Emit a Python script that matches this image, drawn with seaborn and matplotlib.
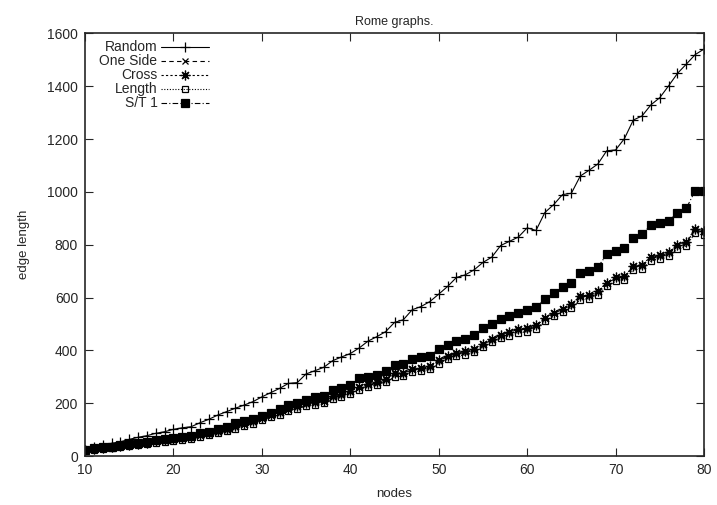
import numpy as np
import pandas as pd
import matplotlib
matplotlib.use("Agg")
import matplotlib.pyplot as plt
import seaborn as sns

nodes = list(range(10, 81))

random_len = [23, 35, 42, 48, 54, 63, 71, 77, 86, 92, 101, 107, 111, 126, 139, 155, 168, 181, 193, 206,
              224, 240, 256, 275, 278, 311, 323, 336, 361, 375, 388, 409, 435, 452, 471, 506, 516, 554, 566, 585,
              613, 642, 676, 686, 705, 733, 753, 797, 813, 829, 864, 854, 922, 952, 990, 995, 1060, 1082, 1106, 1156,
              1159, 1202, 1272, 1288, 1330, 1357, 1402, 1449, 1484, 1520, 1541]

one_side_len = [20, 26, 30, 33, 38, 42, 46, 50, 55, 58, 62, 67, 71, 78, 84, 92, 100, 110, 120, 130,
                143, 155, 164, 177, 187, 197, 202, 207, 225, 231, 244, 260, 269, 278, 288, 311, 311, 328, 332, 338,
                360, 376, 388, 393, 402, 422, 440, 456, 466, 477, 481, 492, 521, 540, 555, 572, 603, 606, 622, 654,
                673, 677, 717, 721, 752, 759, 768, 795, 808, 856, 847]

cross_len = [21, 27, 31, 34, 39, 43, 47, 51, 56, 60, 64, 68, 73, 80, 86, 94, 102, 112, 122, 132,
             145, 157, 166, 179, 189, 199, 205, 210, 228, 234, 247, 263, 272, 281, 291, 314, 314, 331, 335, 341,
             363, 379, 391, 396, 405, 425, 443, 459, 469, 480, 485, 495, 524, 543, 558, 575, 606, 609, 625, 657,
             676, 680, 720, 725, 755, 762, 772, 799, 812, 860, 851]

length_len = [19, 24, 28, 31, 35, 39, 43, 46, 51, 54, 58, 62, 66, 72, 78, 86, 94, 103, 113, 123,
              135, 147, 156, 169, 179, 189, 194, 199, 216, 222, 235, 251, 260, 269, 279, 301, 302, 318, 322, 328,
              350, 366, 378, 383, 392, 412, 430, 446, 456, 466, 471, 482, 510, 529, 545, 561, 592, 595, 611, 643,
              661, 666, 705, 709, 740, 747, 756, 783, 796, 844, 836]

st1_len = [23, 29, 33, 35, 42, 45, 50, 54, 61, 63, 67, 73, 77, 86, 92, 101, 111, 124, 134, 141,
           153, 164, 177, 193, 199, 212, 225, 227, 250, 256, 269, 294, 298, 307, 323, 345, 347, 366, 376, 379,
           405, 420, 437, 444, 460, 485, 500, 518, 530, 542, 553, 564, 593, 616, 640, 654, 692, 702, 715, 764,
           776, 786, 824, 840, 875, 884, 890, 921, 938, 1005, 1005]

series_names = ["Random", "One Side", "Cross", "Length", "S/T 1"]
series_values = [random_len, one_side_len, cross_len, length_len, st1_len]

x_ticks = [10, 20, 30, 40, 50, 60, 70, 80]
y_ticks = [0, 200, 400, 600, 800, 1000, 1200, 1400, 1600]

sns.set_style("ticks")
plt.rcParams["font.family"] = ["Liberation Sans", "DejaVu Sans"]

fig = plt.figure(figsize=(7.17, 5.05), dpi=100)
ax = fig.add_axes([0.1186, 0.097, 0.8633, 0.8367])

styles = {
    "Random":   dict(linestyle="-", marker="+", markersize=7, mfc="k"),
    "One Side": dict(linestyle=(0, (4, 3)), marker="x", markersize=5, mfc="k"),
    "Cross":    dict(linestyle=(0, (2, 2)), marker=(8, 2, 0), markersize=7, mfc="k"),
    "Length":   dict(linestyle=(0, (1, 1.5)), marker="s", markersize=5, mfc="none"),
    "S/T 1":    dict(linestyle=(0, (5, 2, 1, 2)), marker="s", markersize=6, mfc="k"),
}

for name, vals in zip(series_names, series_values):
    df = pd.DataFrame({"nodes": nodes, "edge length": vals})
    sns.lineplot(data=df, x="nodes", y="edge length", ax=ax, color="k",
                 linewidth=0.8, markeredgecolor="k", markeredgewidth=0.9,
                 label=name, **styles[name])

ax.set_xlim(10, 80)
ax.set_ylim(0, 1600)
ax.set_xticks(x_ticks)
ax.set_yticks(y_ticks)
ax.tick_params(direction="in", length=6, width=0.8, top=True, right=True,
               labelsize=10, pad=5)
for side in ax.spines.values():
    side.set_linewidth(1.2)
    side.set_visible(True)

ax.set_xlabel("nodes", fontsize=9.5, labelpad=8)
ax.set_ylabel("edge length", fontsize=9.5, labelpad=12)
ax.set_title("Rome graphs.", fontsize=9, pad=6)

leg = ax.legend(loc="upper left", frameon=False, markerfirst=False,
                fontsize=10, handlelength=3.5, handletextpad=0.25,
                labelspacing=0.0, borderaxespad=0.1, bbox_to_anchor=(0.012, 1.0))
for col in leg._legend_handle_box.get_children():
    col.align = "right"

fig.savefig("out.png", dpi=100)
